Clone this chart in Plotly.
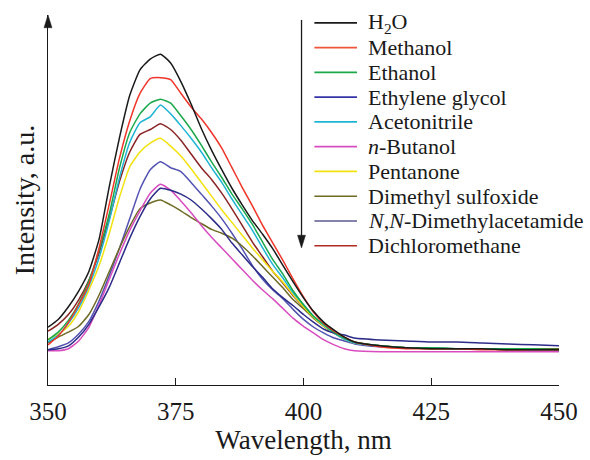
import plotly.graph_objects as go

wavelength = [350, 352, 354, 356, 358, 360, 362, 364, 366, 368, 370, 372, 374, 376, 378,
              380, 382, 384, 386, 388, 390, 392, 394, 396, 398, 400, 402, 404, 406, 408,
              410, 415, 420, 425, 430, 435, 440, 445, 450]

h2o = [59, 67, 80, 96, 116, 149, 203, 253, 296, 322, 333, 338, 329, 310, 287,
       262, 240, 220, 201, 184, 168, 154, 139, 122, 105, 89, 75, 64, 56, 49,
       44, 40, 38, 37, 37, 37, 36, 36, 36]
methanol = [41, 50, 64, 82, 103, 140, 185, 232, 270, 298, 313, 314, 312, 298, 284,
            272, 258, 242, 222, 202, 183, 163, 145, 127, 108, 90, 74, 63, 55, 49,
            44, 39, 37, 37, 37, 36, 36, 36, 36]
ethanol = [46, 54, 66, 83, 106, 138, 175, 222, 258, 277, 288, 292, 288, 275, 261,
           245, 228, 212, 195, 180, 164, 146, 128, 113, 96, 82, 70, 62, 54, 48,
           44, 40, 38, 38, 37, 37, 37, 37, 36]
ethylene_glycol = [36, 37, 40, 49, 62, 80, 100, 125, 150, 172, 190, 201, 199, 195, 189,
                   180, 170, 159, 145, 133, 121, 110, 98, 89, 81, 72, 64, 57, 53, 51,
                   48, 46, 45, 44, 44, 43, 42, 41, 40]
acetonitrile = [44, 51, 63, 79, 101, 130, 168, 212, 248, 268, 274, 286, 277, 265, 252,
                238, 222, 207, 190, 174, 158, 140, 123, 109, 94, 82, 70, 61, 53, 47,
                43, 40, 38, 38, 37, 37, 37, 36, 36]
n_butanol = [35, 35, 37, 45, 59, 82, 108, 134, 158, 178, 196, 205, 199, 188, 176,
             163, 151, 140, 129, 118, 107, 97, 88, 78, 68, 60, 53, 46, 41, 37,
             35, 34, 34, 34, 34, 34, 34, 34, 34]
pentanone = [47, 52, 60, 75, 97, 122, 155, 192, 223, 238, 247, 252, 244, 234, 221,
             207, 193, 179, 166, 153, 140, 128, 116, 105, 92, 80, 69, 60, 53, 47,
             43, 40, 38, 37, 37, 37, 36, 36, 36]
dmso = [43, 49, 54, 60, 72, 92, 116, 140, 162, 180, 186, 189, 184, 178, 171,
        165, 159, 155, 150, 142, 132, 121, 110, 99, 87, 78, 68, 60, 53, 48,
        44, 40, 38, 38, 37, 37, 37, 37, 37]
dma = [36, 39, 43, 52, 65, 86, 112, 140, 170, 200, 220, 228, 222, 218, 207,
       195, 183, 170, 155, 139, 122, 108, 97, 88, 77, 67, 59, 53, 48, 45,
       42, 39, 38, 37, 37, 37, 36, 36, 36]
dcm = [55, 62, 72, 87, 107, 135, 170, 208, 238, 256, 261, 267, 261, 250, 236,
       222, 210, 196, 180, 163, 146, 131, 116, 104, 91, 80, 69, 60, 53, 47,
       43, 40, 38, 37, 37, 37, 36, 36, 36]

names = ["H<sub>2</sub>O", "Methanol", "Ethanol", "Ethylene glycol", "Acetonitrile",
         "<i>n</i>-Butanol", "Pentanone", "Dimethyl sulfoxide",
         "<i>N</i>,<i>N</i>-Dimethylacetamide", "Dichloromethane"]
series = [h2o, methanol, ethanol, ethylene_glycol, acetonitrile, n_butanol,
          pentanone, dmso, dma, dcm]
colors = ["#1a1a1a", "#f0352a", "#1aa84a", "#2c2c88", "#20b4d4", "#d84cc0",
          "#f2e210", "#6e6a24", "#5252b2", "#8a2424"]
legend_colors = ["#1a1a1a", "#f0553a", "#1aa84a", "#3434a8", "#20b4d4", "#d84cc0",
                 "#f2e210", "#6e6a24", "#5a5a90", "#b02a24"]

x_ticks = [350, 375, 400, 425, 450]

fig = go.Figure()
draw_order = [9, 8, 7, 6, 5, 4, 3, 2, 1, 0]
for i in draw_order:
    fig.add_trace(go.Scatter(x=wavelength, y=series[i], mode="lines", name=names[i],
                             line=dict(color=colors[i], width=1.5, shape="spline", smoothing=0.5),
                             showlegend=False))

FONT = "Liberation Serif, Times New Roman, serif"
INK = "#1a1a1a"

# plot area: x 48..564, y 15..393 (pixels)
L, R, T, B = 48, 26, 15, 67
PW = 590 - L - R
PH = 460 - T - B


def px_x(px):
    return (px - L) / PW


def px_y(py):
    return (460 - B - py) / PH


# manual legend
row0 = 23
row_gap = 25.3
for i, nm in enumerate(names):
    py = row0 + row_gap * i
    yp = px_y(py)
    fig.add_shape(type="line", xref="paper", yref="paper",
                  x0=px_x(317), x1=px_x(360), y0=yp, y1=yp,
                  line=dict(color=legend_colors[i], width=1.6))
    fig.add_annotation(xref="paper", yref="paper", x=px_x(369), y=yp,
                       text=nm, showarrow=False, xanchor="left", yanchor="middle",
                       font=dict(family=FONT, size=22, color=INK))

# legend arrow (line + head)
fig.add_shape(type="line", xref="paper", yref="paper",
              x0=px_x(304), x1=px_x(304), y0=px_y(20), y1=px_y(244),
              line=dict(color=INK, width=1.3))
fig.add_shape(type="path", xref="paper", yref="paper",
              path=f"M {px_x(300)} {px_y(240)} L {px_x(308)} {px_y(240)} L {px_x(304)} {px_y(253)} Z",
              fillcolor=INK, line=dict(color=INK, width=0.5))

# y axis arrow head
fig.add_shape(type="path", xref="paper", yref="paper",
              path=f"M {px_x(44)} {px_y(28)} L {px_x(52)} {px_y(28)} L {px_x(48)} {px_y(15)} Z",
              fillcolor=INK, line=dict(color=INK, width=0.5))

fig.update_layout(
    width=590, height=460,
    margin=dict(l=L, r=R, t=T, b=B),
    plot_bgcolor="white", paper_bgcolor="white",
    font=dict(family=FONT, color=INK),
    xaxis=dict(range=[350, 450], tickvals=x_ticks, ticktext=[str(t) for t in x_ticks],
               ticks="inside", ticklen=7, tickwidth=1.3, tickcolor=INK,
               showline=True, linecolor=INK, linewidth=1.3, showgrid=False,
               zeroline=False, tickfont=dict(family=FONT, size=25), ticklabelstandoff=4,
               title=dict(text="Wavelength, nm", font=dict(family=FONT, size=27), standoff=4)),
    yaxis=dict(range=[0, 378], showticklabels=False, ticks="", showline=True,
               linecolor=INK, linewidth=1.3, showgrid=False, zeroline=False,
               title=dict(text="Intensity, a.u.", font=dict(family=FONT, size=28), standoff=4)),
)

fig.write_html("out.html")
